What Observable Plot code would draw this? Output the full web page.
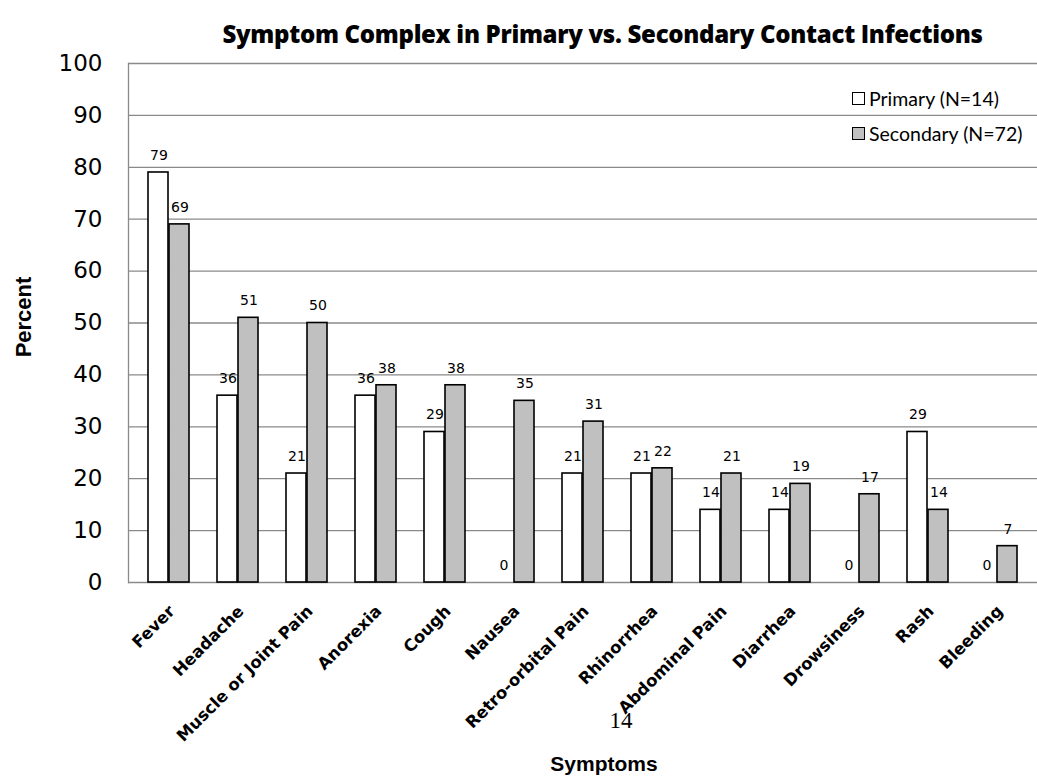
<!DOCTYPE html>
<html>
<head>
<meta charset="utf-8">
<script src="https://cdn.jsdelivr.net/npm/d3@7"></script>
<script src="https://cdn.jsdelivr.net/npm/@observablehq/plot@0.6"></script>
<style>
  body { margin: 0; background: #fff; }
  #wrap { position: relative; width: 1037px; height: 776px; }
  #title { width: 1037px; height: 52px; box-sizing: border-box; padding-left: 168px; padding-top: 20px;
           text-align: center; font-family: "Open Sans", sans-serif; font-weight: 800; font-size: 24px; letter-spacing: -0.3px; color: #000; line-height: 28px; white-space: nowrap; }
  #legend { position: absolute; left: 852px; top: 81px; font-family: Lato, sans-serif; font-size: 19.5px; color: #000; }
  .item { display: flex; align-items: center; height: 35px; }
  .sw { width: 13px; height: 13px; border: 1.3px solid #000; margin-right: 4px; box-sizing: border-box; }
</style>
</head>
<body>
<div id="wrap">
  <div id="title">Symptom Complex in Primary vs. Secondary Contact Infections</div>
  <div id="chart"></div>
  <div id="legend"></div>
</div>
<script>
const categories = ["Fever", "Headache", "Muscle or Joint Pain", "Anorexia", "Cough", "Nausea", "Retro-orbital Pain", "Rhinorrhea", "Abdominal Pain", "Diarrhea", "Drowsiness", "Rash", "Bleeding"];
const primary = [79, 36, 21, 36, 29, 0, 21, 21, 14, 14, 0, 29, 0];
const secondary = [69, 51, 50, 38, 38, 35, 31, 22, 21, 19, 17, 14, 7];
const seriesNames = ["Primary (N=14)", "Secondary (N=72)"];
const seriesColors = ["#ffffff", "#c0c0c0"];
const yTicks = [0, 10, 20, 30, 40, 50, 60, 70, 80, 90, 100];

const prim = categories.map((c, i) => ({symptom: c, value: primary[i]}));
const sec = categories.map((c, i) => ({symptom: c, value: secondary[i]}));

const chart = Plot.plot({
  width: 1037,
  height: 724,
  marginLeft: 128,
  marginRight: 0,
  marginTop: 11,
  marginBottom: 194,
  style: {background: "#fff", overflow: "visible"},
  x: {domain: categories, paddingInner: 0.4, paddingOuter: 0.2, axis: null},
  y: {domain: [0, 100], ticks: yTicks, tickSize: 0, tickPadding: 26, label: null},
  marks: [
    Plot.ruleY(yTicks, {stroke: "#8a8a8a", strokeWidth: 1.3}),
    Plot.frame({anchor: "left", stroke: "#8a8a8a", strokeWidth: 1.3}),
    Plot.axisY({ticks: yTicks, tickSize: 0, tickPadding: 26, fontSize: 23, fontFamily: "DejaVu Sans", label: null}),
    Plot.barY(prim.filter(d => d.value > 0), {x: "symptom", y: "value", fill: seriesColors[0], stroke: "#000", strokeWidth: 1.6, insetRight: 21}),
    Plot.barY(sec.filter(d => d.value > 0), {x: "symptom", y: "value", fill: seriesColors[1], stroke: "#000", strokeWidth: 1.6, insetLeft: 21}),
    Plot.text(prim, {x: "symptom", y: "value", text: d => String(d.value), dx: -10, dy: -17, fontSize: 14, fontFamily: "DejaVu Sans"}),
    Plot.text(sec, {x: "symptom", y: "value", text: d => String(d.value), dx: 11, dy: -17, fontSize: 14, fontFamily: "DejaVu Sans"}),
    Plot.text(categories, {x: d => d, frameAnchor: "bottom", rotate: -45, textAnchor: "end", lineAnchor: "middle", dx: 3, dy: 26, fontSize: 16.5, fontFamily: "DejaVu Sans", fontWeight: "bold", fill: "#000"}),
    Plot.text(["Percent"], {frameAnchor: "left", rotate: -90, textAnchor: "middle", lineAnchor: "middle", dx: -105, dy: -6, fontSize: 22, fontWeight: "bold", fontFamily: "Liberation Sans"}),
    Plot.text(["Symptoms"], {frameAnchor: "bottom", textAnchor: "middle", lineAnchor: "middle", dx: 21, dy: 182, fontSize: 21, fontWeight: "bold", fontFamily: "Liberation Sans"}),
    Plot.text(["14"], {frameAnchor: "bottom", textAnchor: "middle", lineAnchor: "middle", dx: 38, dy: 138, fontSize: 23, fontFamily: "Liberation Serif"})
  ]
});
document.getElementById("chart").appendChild(chart);

const legend = document.getElementById("legend");
seriesNames.forEach((n, i) => {
  const it = document.createElement("div");
  it.className = "item";
  const sw = document.createElement("span");
  sw.className = "sw";
  sw.style.background = seriesColors[i];
  it.appendChild(sw);
  const t = document.createElement("span");
  t.textContent = n;
  it.appendChild(t);
  legend.appendChild(it);
});
</script>
</body>
</html>
